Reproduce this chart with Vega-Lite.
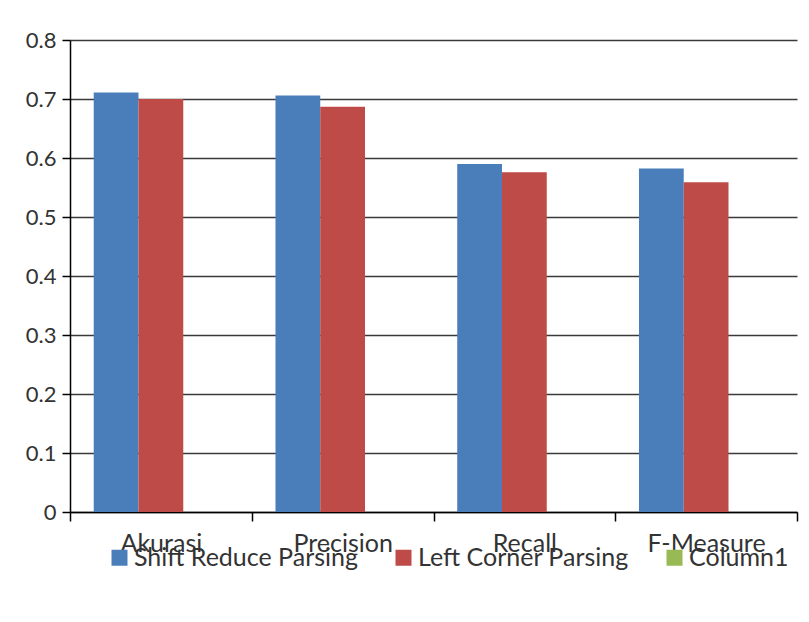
{
  "$schema": "https://vega.github.io/schema/vega-lite/v6.json",
  "autosize": "none",
  "width": 727,
  "height": 472,
  "padding": {"left": 70, "top": 40, "right": 12, "bottom": 110},
  "background": "white",
  "data": {
    "values": [
      {"metric": "Akurasi", "series": "Shift Reduce Parsing", "value": 0.711},
      {"metric": "Akurasi", "series": "Left Corner Parsing", "value": 0.700},
      {"metric": "Precision", "series": "Shift Reduce Parsing", "value": 0.706},
      {"metric": "Precision", "series": "Left Corner Parsing", "value": 0.687},
      {"metric": "Recall", "series": "Shift Reduce Parsing", "value": 0.590},
      {"metric": "Recall", "series": "Left Corner Parsing", "value": 0.576},
      {"metric": "F-Measure", "series": "Shift Reduce Parsing", "value": 0.582},
      {"metric": "F-Measure", "series": "Left Corner Parsing", "value": 0.559}
    ]
  },
  "mark": {"type": "bar"},
  "encoding": {
    "x": {
      "field": "metric",
      "type": "nominal",
      "sort": ["Akurasi", "Precision", "Recall", "F-Measure"],
      "scale": {"paddingInner": 0, "paddingOuter": 0},
      "axis": {
        "title": null,
        "labelAngle": 0,
        "tickBand": "extent",
        "domainColor": "#000000",
        "domainWidth": 1.5,
        "tickColor": "#000000",
        "tickWidth": 1.5,
        "tickSize": 9,
        "labelPadding": 10,
        "labelFont": "Lato",
        "labelFontSize": 25,
        "labelColor": "#333333",
        "grid": false
      }
    },
    "xOffset": {
      "field": "series",
      "type": "nominal",
      "scale": {"domain": ["Shift Reduce Parsing", "Left Corner Parsing", "Column1"], "paddingInner": 0, "paddingOuter": 0.53}
    },
    "y": {
      "field": "value",
      "type": "quantitative",
      "scale": {"domain": [0, 0.8], "nice": false},
      "axis": {
        "title": null,
        "values": [0, 0.1, 0.2, 0.3, 0.4, 0.5, 0.6, 0.7, 0.8],
        "labelExpr": "datum.value == 0 ? '0' : format(datum.value, '.1f')",
        "domainColor": "#000000",
        "domainWidth": 1.5,
        "tickColor": "#000000",
        "tickWidth": 1.5,
        "tickSize": 8,
        "labelPadding": 6,
        "labelFont": "Lato",
        "labelFontSize": 22,
        "labelColor": "#333333",
        "grid": true,
        "gridColor": "#3a3a3a",
        "gridWidth": 1.6
      }
    },
    "color": {
      "field": "series",
      "type": "nominal",
      "scale": {
        "domain": ["Shift Reduce Parsing", "Left Corner Parsing", "Column1"],
        "range": ["#4A7EBB", "#BE4B48", "#98B954"]
      },
      "legend": {
        "title": null,
        "orient": "none",
        "direction": "horizontal",
        "legendX": 37,
        "legendY": 505,
        "symbolType": "square",
        "symbolSize": 256,
        "symbolStrokeWidth": 0,
        "symbolOpacity": 1,
        "labelFont": "Lato",
        "labelFontSize": 25,
        "labelColor": "#333333",
        "labelOffset": 2,
        "columnPadding": 33,
        "labelLimit": 400
      }
    }
  },
  "config": {
    "view": {"stroke": null},
    "font": "Lato"
  }
}
